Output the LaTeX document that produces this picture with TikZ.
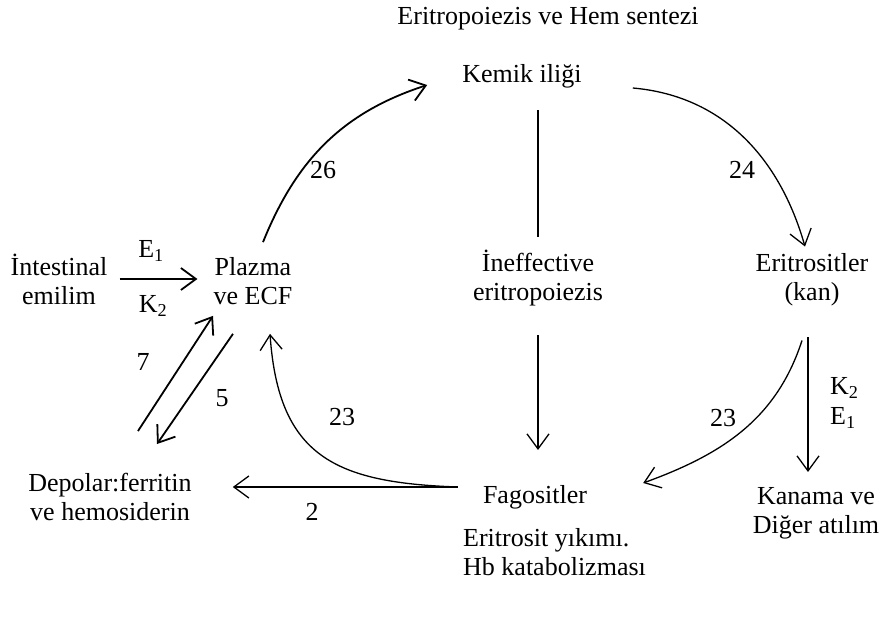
\documentclass[tikz,border=0pt]{standalone}
\usepackage{fontspec}
\setmainfont{Liberation Serif}
\usetikzlibrary{arrows.meta, calc, positioning}
\tikzset{
  % text blocks
  txt/.style={align=center, inner sep=2pt},
  % numbers on the arrows
  num/.style={inner sep=1pt},
  % thin arrow
  garr/.style={line width=1.3pt, -{Straight Barb[length=15pt,width=22pt]}},
  % thick arrow
  tarr/.style={garr, line width=1.8pt},
}

\begin{document}
\begin{tikzpicture}[x=1pt,y=1pt,font=\fontsize{26}{29}\selectfont]
  \useasboundingbox (0,-617) rectangle (881,0);

  \node[txt] (title)   at (548,-19)  {Eritropoiezis ve Hem sentezi};
  \node[txt] (kemik)   at (522,-76)  {Kemik iliği};
  \node[txt] (intest)  at (59,-279)  {İntestinal\\emilim};
  \node[txt] (plazma)  at (253,-281) {Plazma\\ve ECF};
  \node[txt] (ineff)   at (538,-278) {İneffective\\eritropoiezis};
  \node[txt] (eritro)  at (812,-280) {Eritrositler\\(kan)};
  \node[txt] (depolar) at (110,-497) {Depolar:ferritin\\ve hemosiderin};
  \node[txt] (fago)    at (535,-497) {Fagositler};
  \node[txt] (kanama)  at (816,-513) {Kanama ve\\Diğer atılım};
  \node[txt, align=left, anchor=west] (yikim) at (461,-552) {Eritrosit yıkımı.\\Hb katabolizması};

  % numbers
  \node[num] (n26)  at (323,-170) {26};
  \node[num] (n24)  at (742,-170) {24};
  \node[num] (n23a) at (342,-417) {23};
  \node[num] (n23b) at (723,-418) {23};
  \node[num] (n7)   at (143,-362) {7};
  \node[num] (n5)   at (222,-398) {5};
  \node[num] (n2)   at (312,-512) {2};
  \node[num] (e1a)  at (151,-251) {E\textsubscript{1}};
  \node[num] (k2a)  at (153,-306) {K\textsubscript{2}};
  \node[num, anchor=west] (k2b) at (829,-388) {K\textsubscript{2}};
  \node[num, anchor=west] (e1b) at (829,-418) {E\textsubscript{1}};

  % arrows
  \draw[tarr] ([xshift=10pt]intest.east) -- ([xshift=-14pt]intest.east -| plazma.west);
  \draw[tarr] ($(depolar.north)+(28,40)$) -- ($(plazma.south)+(-40,-9)$);
  \draw[tarr] ($(plazma.south)+(-20,-27)$) -- ($(depolar.north)+(47,27)$);
  \draw[tarr] ($(plazma.north)+(10,13)$) to[out=68,in=198] ($(kemik.west)+(-33,-9)$);
  \draw[garr] ($(kemik.east)+(49,-12)$) to[out=-5,in=106] ($(eritro.north)+(-7,5)$);
  \draw[line width=1.3pt] ($(ineff.north |- kemik.south)+(0,-20)$) -- ($(ineff.north)+(0,11)$);
  \draw[garr] ($(ineff.south)+(0,-27)$) -- ($(ineff.south |- fago.north)+(0,33)$);
  \draw[garr] ($(eritro.south)+(-4,-29)$) -- ($(eritro.south |- kanama.north)+(-4,13)$);
  \draw[garr] ($(eritro.south)+(-10,-32)$) to[out=-108,in=20] ($(fago.east)+(54,14)$);
  \draw[garr] ($(fago.west)+(-23,10)$) -- ($(fago.west -| depolar.east)+(39,10)$);
  \draw[garr] ($(fago.west)+(-23,10)$) to[out=178,in=-86,looseness=1.3] ($(plazma.south)+(17,-27)$);
\end{tikzpicture}
\end{document}
